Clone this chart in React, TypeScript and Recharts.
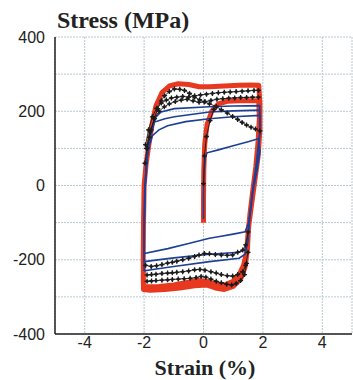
import React from "react";
import {
  ComposedChart,
  Line,
  XAxis,
  YAxis,
  CartesianGrid,
} from "recharts";

// axis ticks
const xTicks = [-4, -2, 0, 2, 4];
const yTicks = [-400, -300, -200, -100, 0, 100, 200, 300, 400];

// red (outer) loop, strain %, stress MPa
const redLoop: [number, number][] = [
  [0, -100], [0, -40], [0.01, 40], [0.04, 110], [0.12, 165], [0.28, 200], [0.5, 220], [0.8, 227], [1.2, 228], [1.6, 228], [1.86, 228],
  [1.88, 180], [1.84, 120], [1.76, 50], [1.65, -20], [1.56, -80], [1.5, -130], [1.45, -180], [1.35, -215], [1.2, -240], [1.0, -258],
  [0.7, -268], [0.4, -265], [0.1, -258], [-0.2, -256], [-0.6, -262], [-1.0, -268], [-1.5, -272], [-1.85, -273], [-2.02, -272],
  [-2.03, -200], [-2.02, -100], [-2.0, 0], [-1.93, 60], [-1.84, 110], [-1.72, 170], [-1.6, 215], [-1.4, 250], [-1.15, 268],
  [-0.85, 274], [-0.5, 272], [-0.15, 266], [0.2, 266], [0.7, 268], [1.2, 270], [1.6, 271], [1.86, 270],
  [1.9, 220], [1.9, 150], [1.84, 80], [1.74, 20], [1.62, -50], [1.52, -110], [1.48, -170], [1.4, -220], [1.25, -252], [1.0, -272],
  [0.7, -280], [0.4, -276], [0.1, -268], [-0.3, -270], [-0.8, -276], [-1.3, -280], [-1.8, -282], [-2.02, -280], [-2.03, -240],
];

// blue (thin) cycles
const blueCycle1: [number, number][] = [
  [0, -90], [0, -20], [0.02, 40], [0.06, 75], [0.12, 88], [0.5, 96], [1.0, 107], [1.5, 118], [1.85, 126],
  [1.9, 90], [1.8, 40], [1.68, -10], [1.58, -60], [1.52, -100], [1.4, -125], [1.0, -131], [0.5, -138], [0.2, -142],
  [-0.5, -156], [-1.2, -170], [-2.0, -183],
  [-2.0, -120], [-1.98, -20], [-1.93, 50], [-1.85, 100], [-1.72, 134], [-1.5, 150], [-1.21, 161], [-0.6, 172], [0.2, 180],
  [1.0, 185], [1.89, 189], [1.9, 140], [1.8, 60], [1.66, -20], [1.55, -90], [1.48, -150], [1.4, -172], [1.2, -180],
  [0.2, -185], [-1.0, -195], [-2.0, -205],
];
const blueCycle2: [number, number][] = [
  [-2.0, -205], [-2.0, -120], [-1.97, 0], [-1.9, 80], [-1.8, 130], [-1.65, 171], [-1.3, 180], [-0.98, 185], [0.2, 198],
  [1.0, 201], [1.89, 203], [1.9, 150], [1.78, 60], [1.64, -20], [1.54, -100], [1.5, -150], [1.4, -185], [1.2, -196],
  [0.2, -205], [-1.0, -218], [-1.76, -227], [-2.0, -230],
];
const blueCycle3: [number, number][] = [
  [-2.0, -230], [-2.0, -120], [-1.96, 0], [-1.88, 90], [-1.75, 150], [-1.6, 185], [-1.43, 198], [-0.98, 207], [0.2, 212],
  [1.0, 214], [1.89, 215], [1.9, 160],
];

// black marked curves
const blackStart: [number, number][] = [
  [0, 5], [0.03, 80], [0.1, 132], [0.22, 175], [0.35, 205],
];
const blackSoft: [number, number][] = [
  [-1.97, 60], [-1.9, 100], [-1.82, 130], [-1.76, 150], [-1.66, 180], [-1.54, 207], [-1.42, 228], [-1.31, 242], [-1.15, 253],
  [-0.98, 260], [-0.8, 259], [-0.64, 256], [-0.47, 248], [-0.3, 238], [-0.13, 231], [0.03, 225], [0.2, 220], [0.43, 213],
  [0.6, 204], [0.8, 195], [0.98, 186], [1.15, 178], [1.3, 170], [1.45, 163], [1.6, 157], [1.75, 152], [1.9, 147],
];
const blackUpper: [number, number][] = [
  [-1.95, 110], [-1.85, 150], [-1.72, 185], [-1.58, 208], [-1.42, 222], [-1.25, 230], [-1.08, 236], [-0.9, 238], [-0.7, 240],
  [-0.5, 238], [-0.3, 242], [-0.1, 244], [0.1, 246], [0.3, 248], [0.5, 250], [0.7, 251], [0.9, 252], [1.1, 253], [1.3, 254],
  [1.5, 255], [1.7, 256], [1.85, 256],
];
const blackMiddle: [number, number][] = [
  [-1.92, 100], [-1.8, 145], [-1.65, 180], [-1.5, 200], [-1.32, 212], [-1.15, 220], [-0.95, 226], [-0.75, 230], [-0.55, 232],
  [-0.35, 228], [-0.15, 224], [0.05, 226], [0.25, 229], [0.45, 232], [0.65, 234], [0.85, 235], [1.05, 236], [1.25, 237],
  [1.45, 237], [1.65, 238], [1.85, 238],
];
const blackLow1: [number, number][] = [
  [1.5, -125], [1.42, -160], [1.32, -174], [1.15, -180], [0.98, -187], [0.8, -188], [0.6, -187], [0.4, -186], [0.2, -184],
  [0.03, -183], [-0.15, -187], [-0.3, -191], [-0.5, -196], [-0.7, -200], [-0.9, -204], [-1.05, -207], [-1.21, -209],
  [-1.4, -213], [-1.58, -216], [-1.76, -218], [-1.95, -215],
];
const blackLow2: [number, number][] = [
  [1.5, -180], [1.42, -215], [1.32, -232], [1.15, -240], [0.98, -244], [0.8, -243], [0.6, -240], [0.43, -236], [0.25, -232],
  [0.05, -228], [-0.12, -226], [-0.3, -227], [-0.5, -230], [-0.7, -232], [-0.9, -234], [-1.05, -235], [-1.21, -236],
  [-1.4, -237], [-1.6, -239], [-1.75, -240], [-1.9, -241],
];
const blackLow3: [number, number][] = [
  [1.45, -210], [1.38, -240], [1.25, -256], [1.1, -264], [0.95, -268], [0.78, -266], [0.6, -262], [0.43, -258], [0.25, -252],
  [0.08, -247], [-0.08, -245], [-0.25, -248], [-0.45, -250], [-0.65, -251], [-0.85, -252], [-1.05, -253], [-1.21, -254],
  [-1.4, -255], [-1.6, -256], [-1.75, -257], [-1.9, -258],
];

const toPts = (arr: [number, number][]) => arr.map(([x, y]) => ({ x, y }));

const RED = "#e8381f";
const BLUE = "#1d3f96";
const BLACK = "#1c1c1c";

const Marker = (props: any) => {
  const { cx, cy, index } = props;
  if (cx == null || cy == null) return <g key={index} />;
  return (
    <g key={index}>
      <path
        d={`M${cx - 2.5},${cy}H${cx + 2.5}M${cx},${cy - 2.5}V${cy + 2.5}`}
        stroke={BLACK}
        strokeWidth={1.3}
      />
      <circle cx={cx} cy={cy} r={1.5} fill={BLACK} />
    </g>
  );
};

const tickStyle = { fontSize: 16, fill: "#222", fontFamily: "Liberation Sans, Arial, sans-serif" };

export default function App() {
  const blues = [blueCycle1, blueCycle2, blueCycle3];
  const blacks = [blackStart, blackSoft, blackUpper, blackMiddle, blackLow1, blackLow2, blackLow3];
  return (
    <div style={{ position: "absolute", left: 0, top: 0, width: 353, height: 380, background: "#fff" }}>
      <div
        style={{
          position: "absolute",
          left: 57,
          top: 8,
          fontFamily: "Liberation Serif, Times New Roman, serif",
          fontWeight: "bold",
          fontSize: 24,
          lineHeight: "24px",
          color: "#222",
          whiteSpace: "nowrap",
        }}
      >
        Stress (MPa)
      </div>
      <div
        style={{
          position: "absolute",
          left: 105,
          width: 200,
          top: 357,
          textAlign: "center",
          fontFamily: "Liberation Serif, Times New Roman, serif",
          fontWeight: "bold",
          fontSize: 22,
          lineHeight: "22px",
          color: "#222",
          whiteSpace: "nowrap",
        }}
      >
        Strain (%)
      </div>
      <ComposedChart
        width={353}
        height={380}
        margin={{ top: 37, right: 1, bottom: 0, left: 0 }}
      >
        <CartesianGrid stroke="#b8c8ce" strokeDasharray="2 1" />
        <XAxis
          type="number"
          dataKey="x"
          domain={[-5, 5]}
          ticks={xTicks}
          allowDataOverflow
          height={46}
          stroke="#222"
          strokeWidth={1.5}
          tickLine={false}
          tickSize={2}
          tickMargin={1}
          tick={tickStyle}
        />
        <XAxis
          xAxisId="top"
          type="number"
          orientation="top"
          domain={[-5, 5]}
          height={0}
          tick={false}
          stroke="#222"
          strokeWidth={1.5}
        />
        <YAxis
          type="number"
          domain={[-400, 400]}
          ticks={yTicks}
          allowDataOverflow
          width={55}
          stroke="#222"
          strokeWidth={1.5}
          tickLine={false}
          tickMargin={4}
          tick={tickStyle}
          tickFormatter={(v: number) => (v % 200 === 0 ? String(v) : "")}
        />
        <YAxis
          yAxisId="right"
          orientation="right"
          type="number"
          domain={[-400, 400]}
          ticks={yTicks}
          width={0}
          mirror
          tickSize={5}
          stroke="#222"
          strokeWidth={1.5}
          tickFormatter={() => ""}
        />
        <Line
          data={toPts(redLoop)}
          dataKey="y"
          type="linear"
          stroke={RED}
          strokeWidth={5}
          strokeLinejoin="round"
          dot={false}
          isAnimationActive={false}
        />
        {blues.map((b, i) => (
          <Line
            key={`b${i}`}
            data={toPts(b)}
            dataKey="y"
            type="linear"
            stroke={BLUE}
            strokeWidth={1.6}
            dot={false}
            isAnimationActive={false}
          />
        ))}
        {blacks.map((b, i) => (
          <Line
            key={`k${i}`}
            data={toPts(b)}
            dataKey="y"
            type="linear"
            stroke={BLACK}
            strokeWidth={0.9}
            dot={Marker}
            isAnimationActive={false}
          />
        ))}
      </ComposedChart>
    </div>
  );
}
